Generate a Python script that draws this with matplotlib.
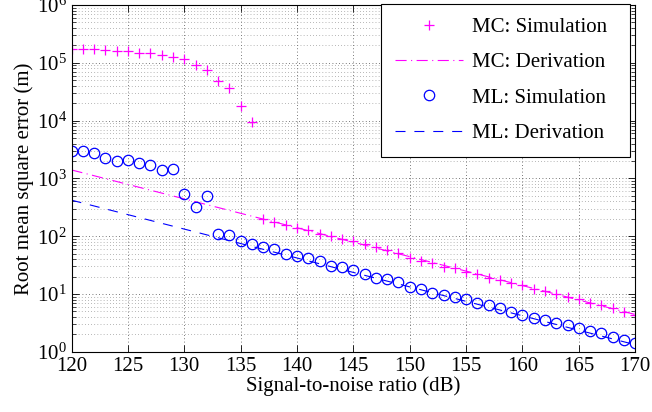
import matplotlib
matplotlib.use("Agg")
import matplotlib.pyplot as plt
import numpy as np

plt.rcParams['font.family'] = ['Liberation Serif', 'DejaVu Serif']
plt.rcParams['mathtext.fontset'] = 'stix'

# SNR values (dB)
snr = list(range(120, 171))

# MC: Simulation
mc_sim = [1.7e5, 1.7e5, 1.7e5, 1.63e5, 1.6e5, 1.57e5, 1.5e5, 1.45e5, 1.34e5, 1.27e5,
          1.17e5, 9.1e4, 7.4e4, 4.9e4, 3.7e4, 1.78e4, 9.6e3,
          195, 175, 159, 140, 127, 111, 100, 90, 82, 74, 66, 58, 52,
          41.6, 38, 34, 29.8, 28, 24.5, 22.3, 19.2, 17.5, 15.7,
          14.1, 12.2, 11.3, 10, 8.75, 8.1, 7.1, 6.4, 5.8, 4.9, 4.4]

# MC: Derivation (straight line on log scale, endpoints)
mc_der_x = [120, 170]
mc_der_y = [1400, 4.43]

# ML: Simulation
ml_sim = [2970, 2950, 2710, 2220, 1970, 2110, 1840, 1680, 1380, 1430,
          528, 324, 493, 111, 103, 82, 74, 66, 61, 50,
          46, 42, 36.6, 31, 29, 26.5, 22.3, 19.2, 18, 15.9,
          13.4, 12.4, 10.5, 9.6, 8.8, 8.2, 7.1, 6.45, 5.65, 4.8,
          4.3, 3.9, 3.6, 3.1, 2.86, 2.6, 2.31, 2.09, 1.78, 1.6, 1.4]

# ML: Derivation
ml_der_x = [120, 170]
ml_der_y = [420, 1.33]

fig = plt.figure(figsize=(6.52, 4.12), dpi=100)
ax = fig.add_axes([0.1097, 0.146, 0.8645, 0.842])

ax.semilogy(snr, mc_sim, '+', color=(1, 0, 1), markersize=7.5, markeredgewidth=0.9,
            label='MC: Simulation')
ax.semilogy(mc_der_x, mc_der_y, '-.', color=(1, 0, 1), linewidth=0.8,
            dashes=(10, 4, 1, 4), label='MC: Derivation')
ax.semilogy(snr, ml_sim, 'o', color=(0, 0, 1), markerfacecolor='none', markersize=7.5,
            markeredgewidth=0.9, label='ML: Simulation')
ax.semilogy(ml_der_x, ml_der_y, '--', color=(0, 0, 1), linewidth=0.8,
            dashes=(9, 8), label='ML: Derivation')

ax.set_xlim(120, 170)
ax.set_ylim(1, 1e6)
ax.set_xticks(range(120, 171, 5))
ax.set_yticks([1e0, 1e1, 1e2, 1e3, 1e4, 1e5, 1e6])
ax.xaxis.set_minor_locator(matplotlib.ticker.NullLocator())
ax.tick_params(which='both', direction='in', top=True, right=True, labelsize=15)
ax.tick_params(which='major', length=5, width=0.6)
ax.tick_params(which='minor', length=3, width=0.5)
ax.tick_params(axis='x', pad=4)
ax.grid(True, which='major', linestyle=(0, (1, 3)), color='0.3', linewidth=0.6)
ax.grid(True, which='minor', axis='y', linestyle=(0, (1, 3.5)), color='0.45', linewidth=0.5)
for s in ax.spines.values():
    s.set_linewidth(0.8)

ax.set_xlabel('Signal-to-noise ratio (dB)', fontsize=15, labelpad=0)
ax.set_ylabel('Root mean square error (m)', fontsize=15, labelpad=2)

leg = ax.legend(loc='upper left', bbox_to_anchor=(0.549, 1.003, 0.442, 0), mode='expand',
                fontsize=15, frameon=True, fancybox=False, edgecolor='black', framealpha=1,
                borderaxespad=0, borderpad=0.66, handlelength=3.3, handletextpad=0.4,
                labelspacing=0.75)
leg.get_frame().set_linewidth(0.8)

fig.savefig('out.png', dpi=100)
